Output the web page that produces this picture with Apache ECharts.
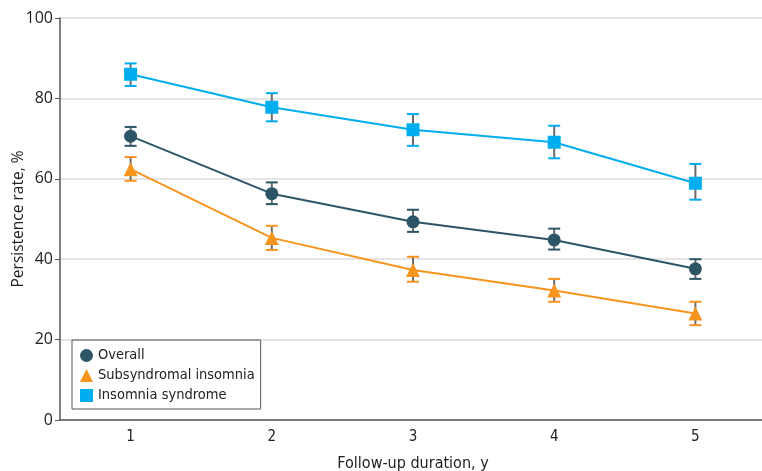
<!DOCTYPE html>
<html>
<head>
<meta charset="utf-8">
<script src="https://cdn.jsdelivr.net/npm/echarts@6/dist/echarts.min.js"></script>
<style>
  html, body { margin: 0; padding: 0; background: #fff; }
  #chartArea { width: 762px; height: 471px; }
</style>
</head>
<body>
<div id="chartArea"></div>
<script>
var years = ['1', '2', '3', '4', '5'];

var overall     = [70.6, 56.3, 49.3, 44.8, 37.6];
var overallLow  = [68.2, 53.7, 46.8, 42.4, 35.1];
var overallHigh = [72.9, 59.1, 52.3, 47.6, 40.0];

var subsyn     = [62.4, 45.3, 37.3, 32.2, 26.5];
var subsynLow  = [59.5, 42.3, 34.4, 29.4, 23.6];
var subsynHigh = [65.4, 48.3, 40.6, 35.1, 29.4];

var syndrome     = [86.0, 77.8, 72.2, 69.1, 58.9];
var syndromeLow  = [83.1, 74.3, 68.2, 65.1, 54.8];
var syndromeHigh = [88.7, 81.3, 76.1, 73.2, 63.7];

var yTicks = [0, 20, 40, 60, 80, 100];

var condensed = "'Liberation Sans Narrow', 'DejaVu Sans Condensed', sans-serif";
var plain = "'Open Sans', 'Noto Sans', sans-serif";

function errorSeries(name, low, high, color) {
    var data = [];
    for (var i = 0; i < low.length; i++) {
        data.push([i, low[i], high[i]]);
    }
    return {
        name: name,
        type: 'custom',
        z: 1,
        silent: true,
        data: data,
        renderItem: function(params, api) {
            var lo = api.coord([api.value(0), api.value(1)]);
            var hi = api.coord([api.value(0), api.value(2)]);
            var half = 6;
            return {
                type: 'group',
                children: [
                    { type: 'line', shape: { x1: lo[0], y1: lo[1], x2: hi[0], y2: hi[1] },
                      style: { stroke: '#6b6b6b', lineWidth: 2 } },
                    { type: 'line', shape: { x1: lo[0] - half, y1: lo[1], x2: lo[0] + half, y2: lo[1] },
                      style: { stroke: color, lineWidth: 2 } },
                    { type: 'line', shape: { x1: hi[0] - half, y1: hi[1], x2: hi[0] + half, y2: hi[1] },
                      style: { stroke: color, lineWidth: 2 } }
                ]
            };
        }
    };
}

function lineSeries(name, values, color, symbol, size) {
    return {
        name: name,
        type: 'line',
        z: 3,
        data: values,
        symbol: symbol,
        symbolSize: size,
        showAllSymbol: true,
        lineStyle: { color: color, width: 2 },
        itemStyle: { color: color, opacity: 1 }
    };
}

var myChart = echarts.init(document.getElementById('chartArea'));

myChart.setOption({
    animation: false,
    backgroundColor: '#ffffff',
    grid: { left: 60, right: -4, top: 18, bottom: 51, outerBoundsMode: 'none', containLabel: false },
    legend: {
        orient: 'vertical',
        left: 72,
        top: 340,
        padding: [8, 6, 6, 8],
        borderColor: '#555',
        borderWidth: 1,
        itemGap: 5,
        itemWidth: 13,
        itemHeight: 13,
        textStyle: { fontFamily: condensed, fontSize: 14.5, lineHeight: 14, color: '#222' },
        data: [
            { name: 'Overall', icon: 'circle', itemStyle: { color: '#2c5566' } },
            { name: 'Subsyndromal insomnia', icon: 'triangle', itemStyle: { color: '#f7941d' } },
            { name: 'Insomnia syndrome', icon: 'rect', itemStyle: { color: '#00aeef' } }
        ]
    },
    xAxis: {
        type: 'category',
        data: years,
        boundaryGap: true,
        name: 'Follow-up duration, y',
        nameLocation: 'middle',
        nameGap: 36,
        nameMoveOverlap: false,
        nameTextStyle: { fontFamily: condensed, fontSize: 16, color: '#222' },
        axisLine: { lineStyle: { color: '#555', width: 1.5 } },
        axisTick: { alignWithLabel: true, length: 6, lineStyle: { color: '#555' } },
        axisLabel: { fontFamily: condensed, fontSize: 15, color: '#222', margin: 10 },
        splitLine: { show: false }
    },
    yAxis: {
        type: 'value',
        min: yTicks[0],
        max: yTicks[yTicks.length - 1],
        interval: 20,
        name: 'Persistence rate, %',
        nameLocation: 'middle',
        nameGap: 33,
        nameMoveOverlap: false,
        nameTextStyle: { fontFamily: plain, fontSize: 15.5, color: '#222' },
        axisLine: { show: true, lineStyle: { color: '#555', width: 1.5 } },
        axisTick: { show: true, length: 5, lineStyle: { color: '#555' } },
        axisLabel: { fontFamily: plain, fontSize: 16, color: '#222', margin: 7 },
        splitLine: { show: true, lineStyle: { color: '#dcdcdc', width: 1.5 } }
    },
    series: [
        errorSeries('Insomnia syndrome', syndromeLow, syndromeHigh, '#00aeef'),
        errorSeries('Overall', overallLow, overallHigh, '#2c5566'),
        errorSeries('Subsyndromal insomnia', subsynLow, subsynHigh, '#f7941d'),
        lineSeries('Insomnia syndrome', syndrome, '#00aeef', 'rect', 13),
        lineSeries('Overall', overall, '#2c5566', 'circle', 13),
        lineSeries('Subsyndromal insomnia', subsyn, '#f7941d', 'triangle', 14)
    ]
});
</script>
</body>
</html>
